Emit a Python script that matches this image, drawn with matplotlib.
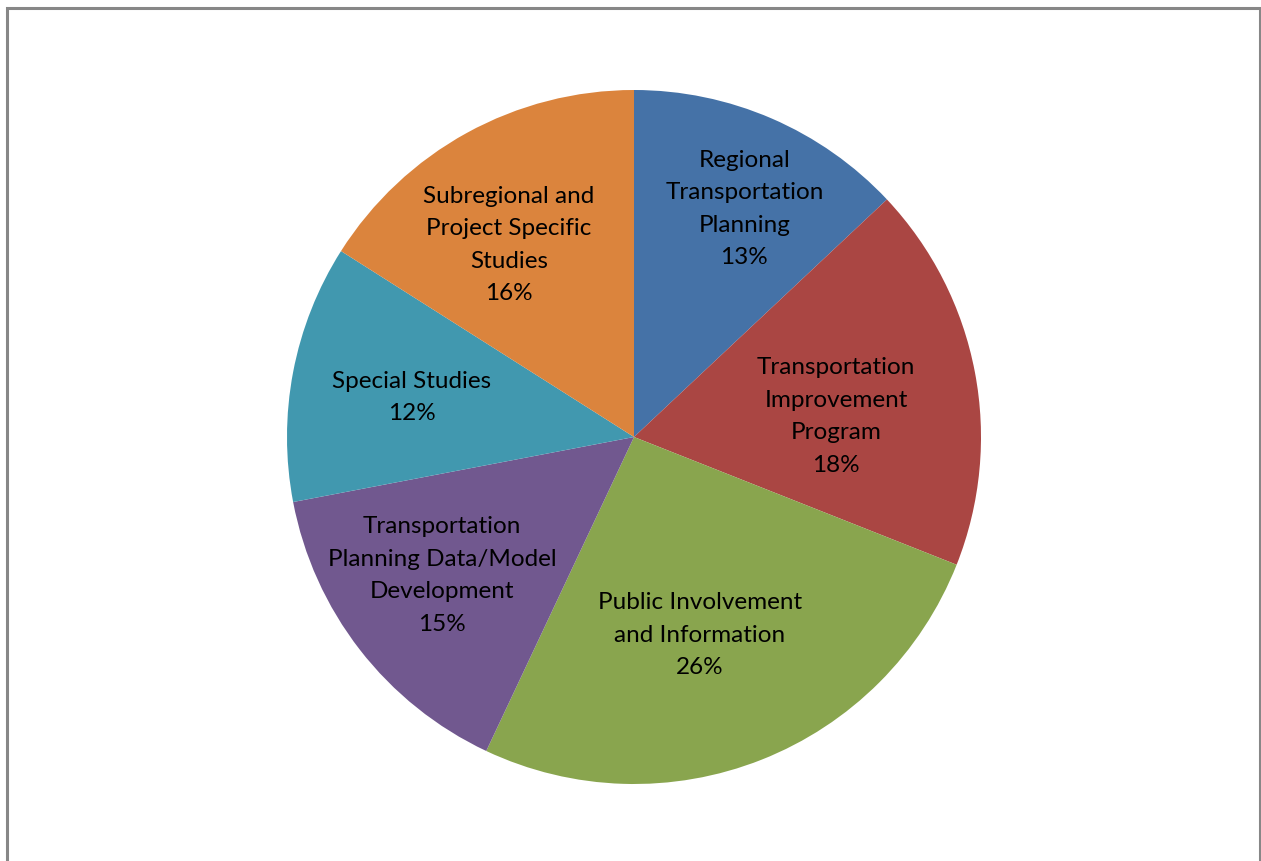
import matplotlib
matplotlib.use("Agg")
import matplotlib.pyplot as plt
from matplotlib.patches import Rectangle
import numpy as np

categories = [
    "Regional\nTransportation\nPlanning",
    "Transportation\nImprovement\nProgram",
    "Public Involvement\nand Information",
    "Transportation\nPlanning Data/Model\nDevelopment",
    "Special Studies",
    "Subregional and\nProject Specific\nStudies",
]
values = [13, 18, 26, 15, 12, 16]
colors = ["#4572A7", "#AA4643", "#89A54E", "#71588F", "#4198AF", "#DB843D"]
# label placement (styling): radial distance and angular nudge (deg, clockwise)
label_radius = [0.735, 0.586, 0.596, 0.679, 0.651, 0.665]
label_nudge = [2.25, 4.4, 3.0, 2.4, -0.2, -4.0]

plt.rcParams['font.family'] = ['Lato', 'DejaVu Sans']

W, H = 1261, 861
fig = plt.figure(figsize=(W / 100, H / 100), dpi=100)
fig.patch.set_facecolor("white")

# border frame
fig.patches.append(Rectangle((6.5 / W, -0.05), (1259.5 - 6.5) / W, 1.05 - 7.5 / H,
                             transform=fig.transFigure, fill=False,
                             edgecolor="#878787", linewidth=2.2))

cx, cy, r = 634, 437, 347
ax = fig.add_axes([(cx - r) / W, (H - cy - r) / H, 2 * r / W, 2 * r / H])

wedges, _ = ax.pie(values, colors=colors, startangle=90, counterclock=False,
                   radius=1, wedgeprops=dict(linewidth=0))
ax.set_xlim(-1, 1)
ax.set_ylim(-1, 1)
ax.set_aspect("equal")
ax.axis("off")

total = sum(values)
for w, cat, v, lr, nd in zip(wedges, categories, values, label_radius, label_nudge):
    mid = np.deg2rad((w.theta1 + w.theta2) / 2 - nd)
    x, y = lr * np.cos(mid), lr * np.sin(mid)
    ax.text(x, y - 0.006, f"{cat}\n{round(100 * v / total)}%", ha="center", va="center",
            fontsize=17.5, color="black", linespacing=1.67)

fig.savefig("out.png", dpi=100)
